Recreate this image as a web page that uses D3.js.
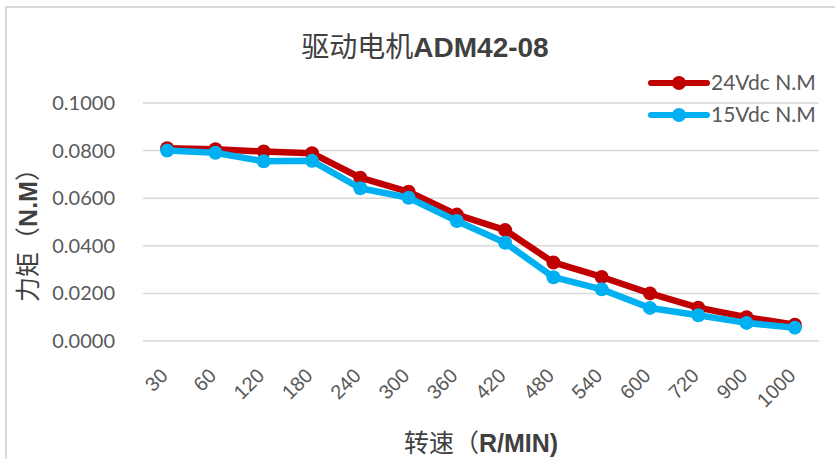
<!DOCTYPE html>
<html><head><meta charset="utf-8">
<script src="https://cdn.jsdelivr.net/npm/d3@7"></script>
<style>
body{margin:0;background:#fff;}
svg{display:block;font-family:Lato,"Noto Sans CJK SC",sans-serif;}
</style></head><body>
<svg id="c" width="835" height="459"></svg>
<script>
const categories = ["30","60","120","180","240","300","360","420","480","540","600","720","900","1000"];
const series24 = [0.0810,0.0806,0.0796,0.0789,0.0686,0.0627,0.0531,0.0466,0.0330,0.0269,0.0200,0.0140,0.0100,0.0068];
const series15 = [0.0800,0.0791,0.0755,0.0757,0.0642,0.0602,0.0504,0.0413,0.0268,0.0217,0.0139,0.0108,0.0076,0.0056];
const seriesNames = ["24Vdc N.M","15Vdc N.M"];
const seriesColors = ["#C00000","#00B0F0"];
const yTicks = [0,0.02,0.04,0.06,0.08,0.10];

const svg = d3.select("#c");
// chart border
svg.append("path").attr("d","M6,459 V7 H835").attr("fill","none").attr("stroke","#d9d9d9").attr("stroke-width",2);

const x = d3.scaleBand().domain(categories).range([143,819]);
const y = d3.scaleLinear().domain([0,0.1]).range([341,103]);

// gridlines
svg.append("g").selectAll("line").data(yTicks).join("line")
  .attr("x1",143).attr("x2",819)
  .attr("y1",d=>y(d)).attr("y2",d=>y(d))
  .attr("stroke","#d9d9d9").attr("stroke-width",1.5);

// y axis labels
const yAxis = d3.axisLeft(y).tickValues(yTicks).tickFormat(d3.format(".4f")).tickSize(0).tickPadding(0);
const yg = svg.append("g").attr("transform","translate(115,0)").call(yAxis);
yg.select(".domain").remove();
yg.selectAll("text").attr("font-size",20).attr("fill","#595959").attr("font-family","Lato, sans-serif");

// x axis labels
const xAxis = d3.axisBottom(x).tickSize(0);
const xg = svg.append("g").attr("transform","translate(0,372)").call(xAxis);
xg.select(".domain").remove();
xg.selectAll("text").attr("font-size",20).attr("fill","#595959")
  .attr("text-anchor","end").attr("dy","0.35em")
  .attr("transform","translate(-3,0) rotate(-45)")
  .attr("x",0).attr("y",0);

const data = [series24, series15];
const line = d3.line().x((d,i)=>x(categories[i])+x.bandwidth()/2).y(d=>y(d));
data.forEach((s,k)=>{
  const g = svg.append("g");
  g.append("path").datum(s).attr("d",line).attr("fill","none")
    .attr("stroke",seriesColors[k]).attr("stroke-width",6.5).attr("stroke-linejoin","round");
  g.selectAll("circle").data(s).join("circle")
    .attr("cx",(d,i)=>x(categories[i])+x.bandwidth()/2).attr("cy",d=>y(d))
    .attr("r",7).attr("fill",seriesColors[k]);
});

// legend
const leg = svg.append("g");
seriesNames.forEach((n,k)=>{
  const ly = 83 + k*32;
  leg.append("line").attr("x1",651).attr("x2",707).attr("y1",ly).attr("y2",ly)
    .attr("stroke",seriesColors[k]).attr("stroke-width",6).attr("stroke-linecap","round");
  leg.append("circle").attr("cx",679).attr("cy",ly).attr("r",7).attr("fill",seriesColors[k]);
  leg.append("text").attr("x",711).attr("y",ly).attr("dy","0.35em").attr("font-size",21)
    .attr("fill","#595959").text(n);
});

// title
svg.append("text").attr("x",425).attr("y",57).attr("text-anchor","middle")
  .attr("font-size",28).attr("fill","#404040")
  .html('<tspan font-family="Noto Sans CJK SC">驱动电机</tspan><tspan font-family="Liberation Sans" font-weight="bold">ADM42-08</tspan>');

// y axis title
svg.append("text").attr("transform","translate(37,229) rotate(-90)").attr("text-anchor","middle")
  .attr("font-size",25).attr("fill","#404040")
  .html('<tspan font-family="Noto Sans CJK SC">力矩（</tspan><tspan font-weight="bold" font-family="Liberation Sans">N.M</tspan><tspan font-family="Noto Sans CJK SC">）</tspan>');

// x axis title
svg.append("text").attr("x",481).attr("y",452).attr("text-anchor","middle")
  .attr("font-size",25).attr("fill","#404040")
  .html('<tspan font-family="Noto Sans CJK SC">转速（</tspan><tspan font-weight="bold" font-family="Liberation Sans Narrow, Liberation Sans">R/MIN)</tspan>');
</script>
</body></html>
